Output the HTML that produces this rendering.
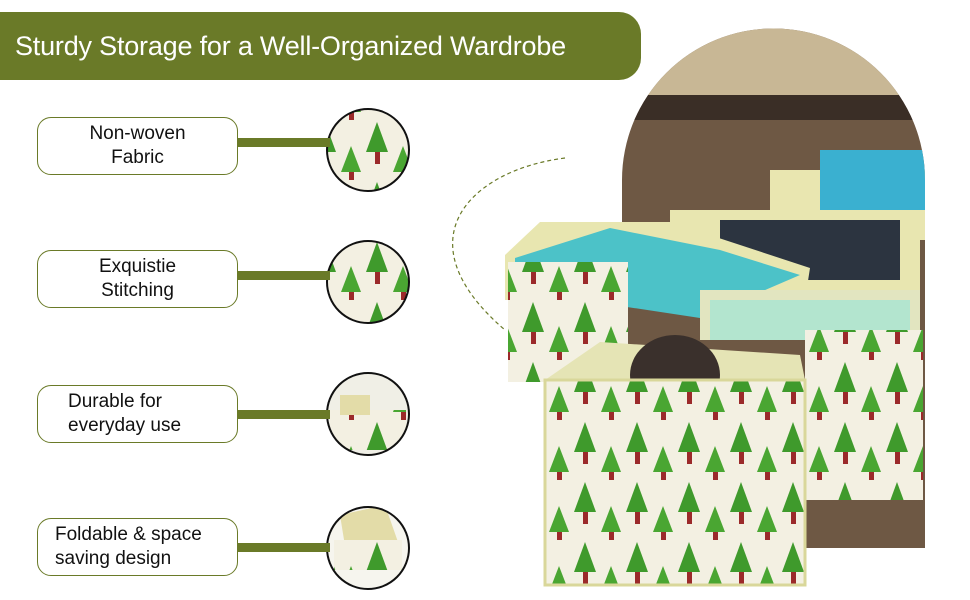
<!DOCTYPE html>
<html><head><meta charset="utf-8"><style>
body{margin:0;width:970px;height:600px;background:#fff;position:relative;overflow:hidden;font-family:"Liberation Sans",sans-serif}
.hdr{position:absolute;left:0;top:12px;width:641px;height:68px;background:#6a7a28;border-radius:0 22px 22px 0;color:#fff;font-size:27px;line-height:68px;padding-left:15px;box-sizing:border-box;letter-spacing:-0.2px}
.lbl{position:absolute;left:37px;width:201px;height:58px;border:1.5px solid #6a7a28;border-radius:14px;box-sizing:border-box;font-size:19px;line-height:24px;text-align:center;padding-top:4px;color:#111}
.bar{position:absolute;left:238px;width:92px;height:9px;background:#6a7a28}
</style></head><body>
<div class="hdr">Sturdy Storage for a Well-Organized Wardrobe</div>
<svg width="970" height="600" style="position:absolute;left:0;top:0">
<defs>
<pattern id="tr" width="52" height="60" patternUnits="userSpaceOnUse">
<rect width="52" height="60" fill="#f3f0e2"/>
<polygon points="13,2 2,32 24,32" fill="#3f9a2c"/><rect x="11" y="32" width="5" height="12" fill="#9b2a2a"/>
<polygon points="39,26 29,52 49,52" fill="#4aa632"/><rect x="37" y="52" width="5" height="8" fill="#9b2a2a"/>
</pattern>
<clipPath id="arch"><path d="M622,548 L622,180 A151,151 0 0 1 925,180 L925,548 Z"/></clipPath>
<clipPath id="c3"><circle cx="368" cy="414" r="41"/></clipPath>
<clipPath id="c4"><circle cx="368" cy="548" r="41"/></clipPath>
</defs>
<g clip-path="url(#arch)">
<rect x="600" y="0" width="340" height="600" fill="#6e5844"/>
<rect x="600" y="20" width="340" height="75" fill="#c8b795"/>
<rect x="600" y="95" width="340" height="25" fill="#3a2e26"/>
<rect x="770" y="170" width="160" height="70" fill="#e9e6b0"/>
<rect x="820" y="150" width="110" height="60" fill="#3ab0d0"/>
</g>
<rect x="670" y="210" width="250" height="90" fill="#e8e6b0"/>
<rect x="720" y="220" width="180" height="60" fill="#2c3440"/>
<polygon points="505,255 540,222 670,222 810,268 805,300 505,300" fill="#e8e6b0"/>
<polygon points="515,258 610,228 720,250 800,275 700,318 515,290" fill="#4cc2c8"/>
<rect x="508" y="262" width="120" height="120" fill="url(#tr)"/>
<rect x="700" y="290" width="220" height="50" fill="#e2e5c0"/>
<rect x="710" y="300" width="200" height="40" fill="#b3e5cf"/>
<rect x="805" y="330" width="118" height="170" fill="url(#tr)"/>
<polygon points="545,380 600,342 800,355 805,380" fill="#e5e4b5"/>
<ellipse cx="675" cy="375" rx="45" ry="40" fill="#3a302c"/>
<rect x="545" y="380" width="260" height="205" fill="url(#tr)" stroke="#d9d79a" stroke-width="3"/>
<circle cx="368" cy="150" r="41" fill="url(#tr)" stroke="#111" stroke-width="2"/>
<circle cx="368" cy="282" r="41" fill="url(#tr)" stroke="#111" stroke-width="2"/>
<g clip-path="url(#c3)"><rect x="320" y="370" width="100" height="90" fill="#f0efe6"/>
<rect x="330" y="410" width="76" height="40" fill="url(#tr)"/><rect x="340" y="395" width="30" height="20" fill="#e3dca8"/></g>
<circle cx="368" cy="414" r="41" fill="none" stroke="#111" stroke-width="2"/>
<g clip-path="url(#c4)"><rect x="320" y="500" width="100" height="100" fill="#f6f5ee"/>
<polygon points="340,515 385,505 398,542 345,546" fill="#e3dca8"/>
<rect x="334" y="540" width="68" height="30" fill="url(#tr)"/></g>
<circle cx="368" cy="548" r="41" fill="none" stroke="#111" stroke-width="2"/>
<path d="M565,158 C470,170 400,240 505,330" fill="none" stroke="#6a7a28" stroke-width="1.2" stroke-dasharray="4,3"/>
</svg>
<div class="lbl" style="top:117px">Non-woven<br>Fabric</div><div class="bar" style="top:138px"></div>
<div class="lbl" style="top:250px">Exquistie<br>Stitching</div><div class="bar" style="top:271px"></div>
<div class="lbl" style="top:385px;text-align:left;padding-left:30px">Durable for<br>everyday use</div><div class="bar" style="top:410px"></div>
<div class="lbl" style="top:518px;text-align:left;padding-left:17px">Foldable &amp; space<br>saving design</div><div class="bar" style="top:543px"></div>
</body></html>
